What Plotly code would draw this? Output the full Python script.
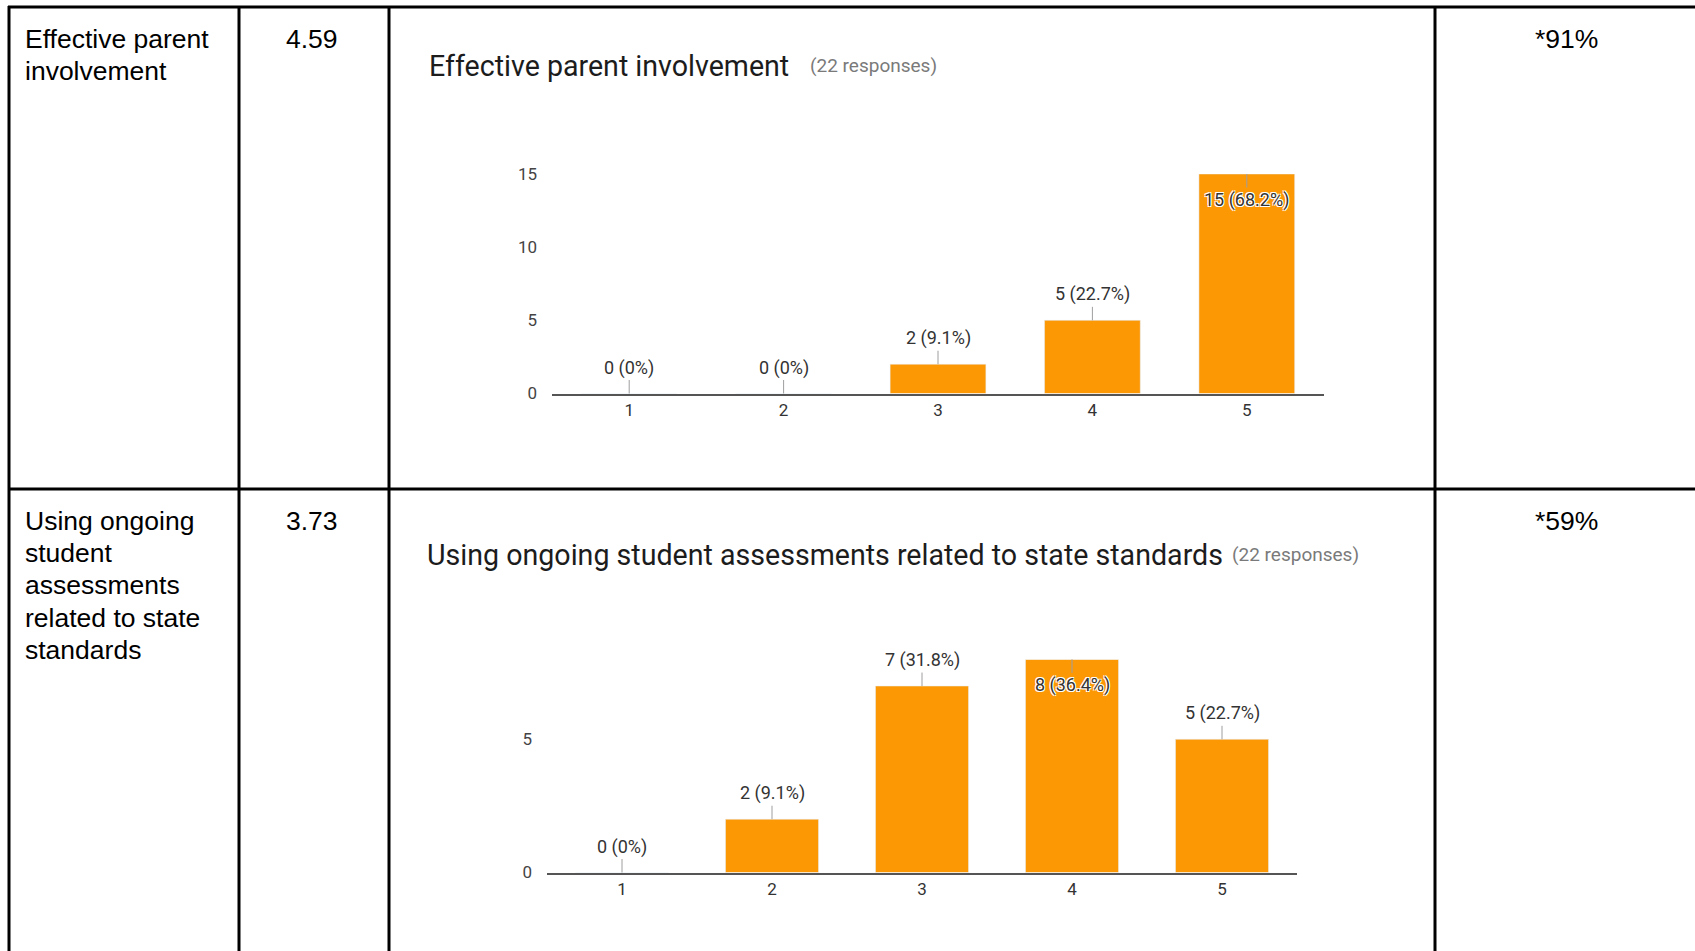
import plotly.graph_objects as go

W, H = 1695, 951

# ---------------- data ----------------
categories = ["1", "2", "3", "4", "5"]
parent_counts = [0, 0, 2, 5, 15]
parent_pcts = ["0%", "0%", "9.1%", "22.7%", "68.2%"]
assess_counts = [0, 2, 7, 8, 5]
assess_pcts = ["0%", "9.1%", "31.8%", "36.4%", "22.7%"]

row_label_lines = [["Effective parent", "involvement"],
                   ["Using ongoing", "student", "assessments", "related to state", "standards"]]
mean_scores = ["4.59", "3.73"]
agree_pcts = ["*91%", "*59%"]
chart_titles = ["Effective parent involvement",
                "Using ongoing student assessments related to state standards"]
responses_note = "(22 responses)"

BAR = "#fc9804"
CHART_FONT = "Roboto"
TABLE_FONT = "Liberation Sans, Arial"


def px(x):
    return x / W


def py(y):
    return 1 - y / H


fig = go.Figure()

fig.add_trace(go.Bar(x=categories, y=parent_counts, marker_color=BAR, width=0.62,
                     xaxis="x", yaxis="y", hoverinfo="skip", showlegend=False))
fig.add_trace(go.Bar(x=categories, y=assess_counts, marker_color=BAR, width=0.62,
                     xaxis="x2", yaxis="y2", hoverinfo="skip", showlegend=False))

annotations = []

HALO = "-1px -1px 0 #fff, 1px -1px 0 #fff, -1px 1px 0 #fff, 1px 1px 0 #fff"


def data_labels(counts, pcts, xref, yref):
    top = max(counts)
    for i, (v, p) in enumerate(zip(counts, pcts)):
        inside = v == top
        annotations.append(dict(
            x=i, y=v, xref=xref, yref=yref, text=f"{v} ({p})",
            showarrow=True, arrowhead=0, arrowwidth=1, arrowcolor="#9e9e9e",
            ax=0, ay=(26 if inside else -26), standoff=0,
            font=dict(family=CHART_FONT, size=18, color="#333333",
                      shadow=(HALO if inside else "none")),
        ))


data_labels(parent_counts, parent_pcts, "x", "y")
data_labels(assess_counts, assess_pcts, "x2", "y2")

# chart titles
title_pos = [(427, 66, 808, 65), (425, 555, 1230, 554)]
for t, (tx, ty, rx, ry) in zip(chart_titles, title_pos):
    annotations.append(dict(x=px(tx), y=py(ty), xref="paper", yref="paper", text=t,
                            showarrow=False, xanchor="left", yanchor="middle",
                            font=dict(family=CHART_FONT, size=28.6, color="#1c1c1c")))
    annotations.append(dict(x=px(rx), y=py(ry), xref="paper", yref="paper",
                            text=responses_note, showarrow=False, xanchor="left",
                            yanchor="middle",
                            font=dict(family=CHART_FONT, size=19, color="#7a7a7a")))

# table cell texts
row_first_centers = [39, 521]
LINE_STEP = 32.2
for lines, score, pct, yc in zip(row_label_lines, mean_scores, agree_pcts, row_first_centers):
    for k, line in enumerate(lines):
        annotations.append(dict(x=px(23), y=py(yc + k * LINE_STEP), xref="paper", yref="paper",
                                text=line, showarrow=False, xanchor="left", yanchor="middle",
                                font=dict(family=TABLE_FONT, size=26.5, color="#000")))
    annotations.append(dict(x=px(312), y=py(yc), xref="paper", yref="paper", text=score,
                            showarrow=False, xanchor="center", yanchor="middle",
                            font=dict(family=TABLE_FONT, size=26.5, color="#000")))
    annotations.append(dict(x=px(1566), y=py(yc), xref="paper", yref="paper", text=pct,
                            showarrow=False, xanchor="center", yanchor="middle",
                            font=dict(family=TABLE_FONT, size=26.5, color="#000")))

# table grid lines
shapes = []
LW = 3
for yl in [7, 489]:
    shapes.append(dict(type="line", xref="paper", yref="paper", x0=px(8), x1=1.01,
                       y0=py(yl), y1=py(yl), line=dict(color="#000", width=LW)))
for xl in [9, 239, 389, 1435]:
    shapes.append(dict(type="line", xref="paper", yref="paper", x0=px(xl), x1=px(xl),
                       y0=py(6), y1=-0.01, line=dict(color="#000", width=LW)))

xcommon = dict(type="category", range=[-0.5, 4.5], autorange=False, automargin=False,
               showgrid=False, zeroline=False, showline=True,
               linecolor="#555555", linewidth=1.5, ticks="", ticklabelstandoff=0,
               tickfont=dict(family=CHART_FONT, size=17, color="#333333"), fixedrange=True)
ycommon = dict(showgrid=False, zeroline=False, showline=False, ticks="", dtick=5,
               ticklabelstandoff=14, autorange=False, automargin=False,
               tickfont=dict(family=CHART_FONT, size=17, color="#444444"), fixedrange=True)

fig.update_layout(
    width=W, height=H, margin=dict(l=0, r=0, t=0, b=0, pad=0, autoexpand=False),
    paper_bgcolor="white", plot_bgcolor="white", showlegend=False,
    xaxis=dict(domain=[px(552), px(1324)], anchor="y", **xcommon),
    yaxis=dict(domain=[py(393.5), py(174)], anchor="x", range=[0, 15], **ycommon),
    xaxis2=dict(domain=[px(547), px(1297)], anchor="y2", **xcommon),
    yaxis2=dict(domain=[py(872.5), py(659.4)], anchor="x2", range=[0, 8], **ycommon),
    annotations=annotations, shapes=shapes,
)

fig.write_html("out.html", config={"displayModeBar": False},
               post_script="document.body.style.margin='0';document.body.style.overflow='hidden';")
